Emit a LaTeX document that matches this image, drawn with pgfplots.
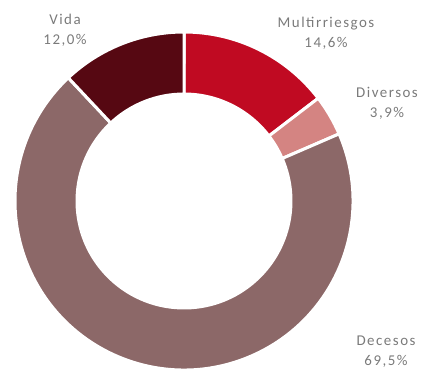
\documentclass[border=0pt]{standalone}
\usepackage{pgfplots}
\pgfplotsset{compat=1.18}
\usepackage{fontspec}
\setmainfont{Carlito}[LetterSpace=10]
\definecolor{cMulti}{HTML}{C00A22}
\definecolor{cDiv}{HTML}{D48482}
\definecolor{cDec}{HTML}{8C6868}
\definecolor{cVida}{HTML}{560812}
\definecolor{lab}{HTML}{7A7A7A}
\begin{document}
\begin{tikzpicture}
% shares (percent), clockwise from 12 o'clock
\def\vMulti{14.6}\def\vDiv{3.9}\def\vDec{69.5}\def\vVida{12.0}
\def\cx{184}\def\cy{172}\def\Ro{169}\def\Ri{107}
\pgfmathsetmacro\aA{90}
\pgfmathsetmacro\aB{\aA-3.6*\vMulti}
\pgfmathsetmacro\aC{\aB-3.6*\vDiv}
\pgfmathsetmacro\aD{\aC-3.6*\vDec}
\pgfmathsetmacro\aE{\aD-3.6*\vVida}
\begin{axis}[hide axis, x=1bp, y=1bp, xmin=0, xmax=421, ymin=0, ymax=373,
  clip=false, scale only axis, at={(0,0)}, anchor=south west]
\addplot[draw=none, forget plot] coordinates {(0,0) (421,373)};
\newcommand\sector[3]{%
 \fill[#3, draw=white, line width=3bp]
   (axis cs:{\cx+\Ro*cos(#1)},{\cy+\Ro*sin(#1)})
   arc[start angle=#1, end angle=#2, radius=\Ro bp]
   -- (axis cs:{\cx+\Ri*cos(#2)},{\cy+\Ri*sin(#2)})
   arc[start angle=#2, end angle=#1, radius=\Ri bp] -- cycle;}
\sector{\aA}{\aB}{cMulti}
\sector{\aB}{\aC}{cDiv}
\sector{\aC}{\aD}{cDec}
\sector{\aD}{\aE}{cVida}
\tikzset{lbl/.style={align=center, text=lab, font=\fontsize{15}{20}\selectfont, inner sep=0pt}}
\node[lbl] at (axis cs:65,343) {Vida\\12,0\%};
\node[lbl] at (axis cs:326,340) {Multirriesgos\\14,6\%};
\node[lbl] at (axis cs:387,270) {Diversos\\3,9\%};
\node[lbl] at (axis cs:386,21) {Decesos\\69,5\%};
\end{axis}
\pgfresetboundingbox
\path[use as bounding box] (0,0) rectangle (421bp,373bp);
\end{tikzpicture}
\end{document}
